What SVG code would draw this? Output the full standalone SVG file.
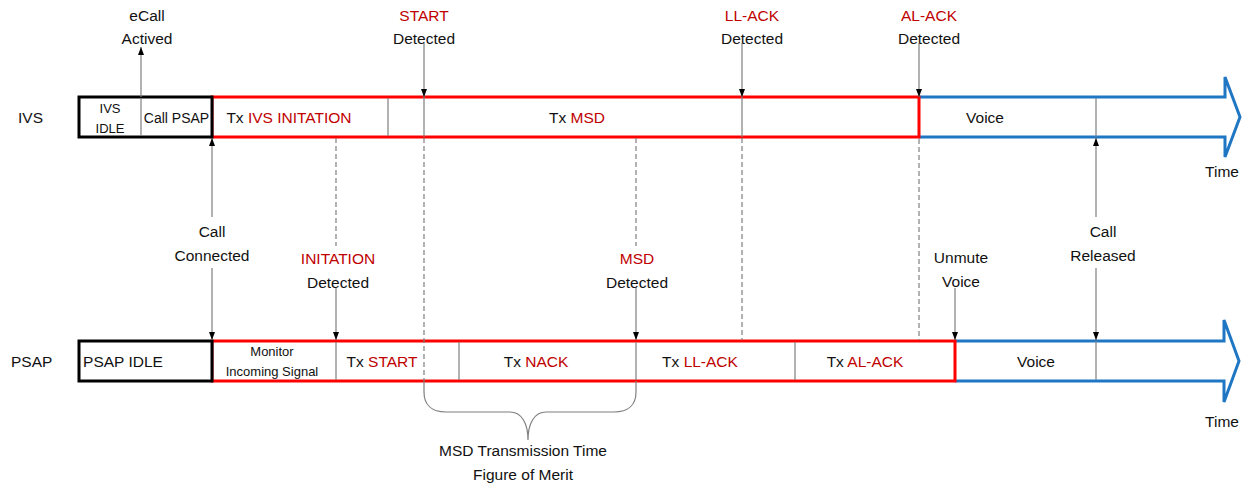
<svg xmlns="http://www.w3.org/2000/svg" width="1244" height="486" viewBox="0 0 1244 486">
<style>
text{font-family:"Liberation Sans",Arial,sans-serif;font-size:15.5px;fill:#111;text-anchor:middle}
.sm{font-size:13px}
.r{fill:#C00000}
.st{text-anchor:start}
.blk{fill:#fff;stroke:#000;stroke-width:3}
.red{fill:none;stroke:#FF0000;stroke-width:3}
.blue{fill:none;stroke:#1F77C4;stroke-width:3;stroke-linejoin:miter}
.div{stroke:#7f7f7f;stroke-width:1.2;fill:none}
.ln{stroke:#7f7f7f;stroke-width:1.2;fill:none}
.dash{stroke:#7f7f7f;stroke-width:1.2;stroke-dasharray:5,3;fill:none}
.arr{marker-end:url(#ah)}
</style>
<defs>
<marker id="ah" viewBox="0 0 8 6" refX="8" refY="3" markerWidth="8" markerHeight="6" markerUnits="userSpaceOnUse" orient="auto">
<path d="M0,0 L8,3 L0,6 z" fill="#000"/>
</marker>
</defs>

<g id="row-labels">
<text class="st" x="18" y="123">IVS</text>
<text class="st" x="11" y="367">PSAP</text>
</g>

<!-- IVS timeline -->
<g id="ivs-voice">
<path class="blue" d="M919,97 H1225 V77 L1240,117 L1225,157 V137 H919"/>
<text x="985" y="123">Voice</text>
<text x="1222" y="177">Time</text>
</g>
<g id="ivs-tx">
<rect class="red" x="212" y="97" width="707" height="40"/>
<line class="div" x1="388" y1="98" x2="388" y2="136"/>
<text x="289" y="123">Tx <tspan class="r">IVS INITATION</tspan></text>
<text x="577" y="123">Tx <tspan class="r">MSD</tspan></text>
</g>
<g id="ivs-idle">
<rect class="blk" x="79" y="97" width="133" height="40"/>
<line class="div" x1="141" y1="98" x2="141" y2="136"/>
<text class="sm" x="110" y="113">IVS</text>
<text class="sm" x="110" y="133">IDLE</text>
<text x="176.5" y="123" style="font-size:14px">Call PSAP</text>
</g>

<!-- PSAP timeline -->
<g id="psap-voice">
<path class="blue" d="M955,341 H1224 V320 L1239,361 L1224,402 V381 H955"/>
<text x="1036" y="367">Voice</text>
<text x="1222" y="427">Time</text>
</g>
<g id="psap-tx">
<rect class="red" x="212" y="341" width="743" height="40"/>
<line class="div" x1="336" y1="342" x2="336" y2="380"/>
<line class="div" x1="459" y1="342" x2="459" y2="380"/>
<line class="div" x1="636" y1="342" x2="636" y2="380"/>
<line class="div" x1="795" y1="342" x2="795" y2="380"/>
<text class="sm" x="272" y="356">Monitor</text>
<text class="sm" x="272" y="376">Incoming Signal</text>
<text x="382" y="367">Tx <tspan class="r">START</tspan></text>
<text x="536" y="367">Tx <tspan class="r">NACK</tspan></text>
<text x="700" y="367">Tx <tspan class="r">LL-ACK</tspan></text>
<text x="865" y="367">Tx <tspan class="r">AL-ACK</tspan></text>
</g>
<g id="psap-idle">
<rect class="blk" x="79" y="341" width="133" height="40"/>
<text x="123" y="367">PSAP IDLE</text>
</g>

<!-- connectors -->
<g id="connectors">
<line class="ln arr" x1="141" y1="97" x2="141" y2="47"/>
<line class="ln arr" x1="424" y1="43" x2="424" y2="97"/>
<line class="ln" x1="424" y1="97" x2="424" y2="137"/>
<line class="dash" x1="424" y1="138" x2="424" y2="381"/>
<line class="ln arr" x1="742" y1="43" x2="742" y2="97"/>
<line class="ln" x1="742" y1="97" x2="742" y2="137"/>
<line class="dash" x1="742" y1="138" x2="742" y2="340"/>
<line class="ln arr" x1="919" y1="43" x2="919" y2="97"/>
<line class="dash" x1="919" y1="139" x2="919" y2="340"/>
<line class="ln arr" x1="212" y1="217" x2="212" y2="138"/>
<line class="ln arr" x1="212" y1="268" x2="212" y2="340"/>
<line class="dash" x1="336" y1="138" x2="336" y2="246"/>
<line class="ln arr" x1="336" y1="287" x2="336" y2="340"/>
<line class="dash" x1="636" y1="138" x2="636" y2="246"/>
<line class="ln arr" x1="636" y1="287" x2="636" y2="340"/>
<line class="ln arr" x1="955" y1="288" x2="955" y2="340"/>
<line class="ln" x1="1096" y1="98" x2="1096" y2="137"/>
<line class="ln arr" x1="1096" y1="217" x2="1096" y2="138"/>
<line class="ln arr" x1="1096" y1="268" x2="1096" y2="340"/>
<line class="ln" x1="1096" y1="341" x2="1096" y2="380"/>
<path class="ln" d="M424,381 V392 C424,405 432,412 446,412 H510 C522,412 528,424 528,440 C528,424 534,412 546,412 H614 C628,412 636,405 636,392 V381"/>
</g>

<!-- event labels -->
<g id="lbl-ecall"><text x="147" y="21">eCall</text><text x="147" y="44">Actived</text></g>
<g id="lbl-start"><text class="r" x="424" y="21">START</text><text x="424" y="44">Detected</text></g>
<g id="lbl-llack"><text class="r" x="752" y="21">LL-ACK</text><text x="752" y="44">Detected</text></g>
<g id="lbl-alack"><text class="r" x="929" y="21">AL-ACK</text><text x="929" y="44">Detected</text></g>
<g id="lbl-connected"><text x="212" y="237">Call</text><text x="212" y="261">Connected</text></g>
<g id="lbl-initation"><text class="r" x="338" y="264">INITATION</text><text x="338" y="288">Detected</text></g>
<g id="lbl-msd"><text class="r" x="637" y="264">MSD</text><text x="637" y="288">Detected</text></g>
<g id="lbl-unmute"><text x="961" y="263">Unmute</text><text x="961" y="287">Voice</text></g>
<g id="lbl-released"><text x="1103" y="237">Call</text><text x="1103" y="261">Released</text></g>
<g id="lbl-fom"><text x="523" y="456">MSD Transmission Time</text><text x="523" y="480">Figure of Merit</text></g>
</svg>
